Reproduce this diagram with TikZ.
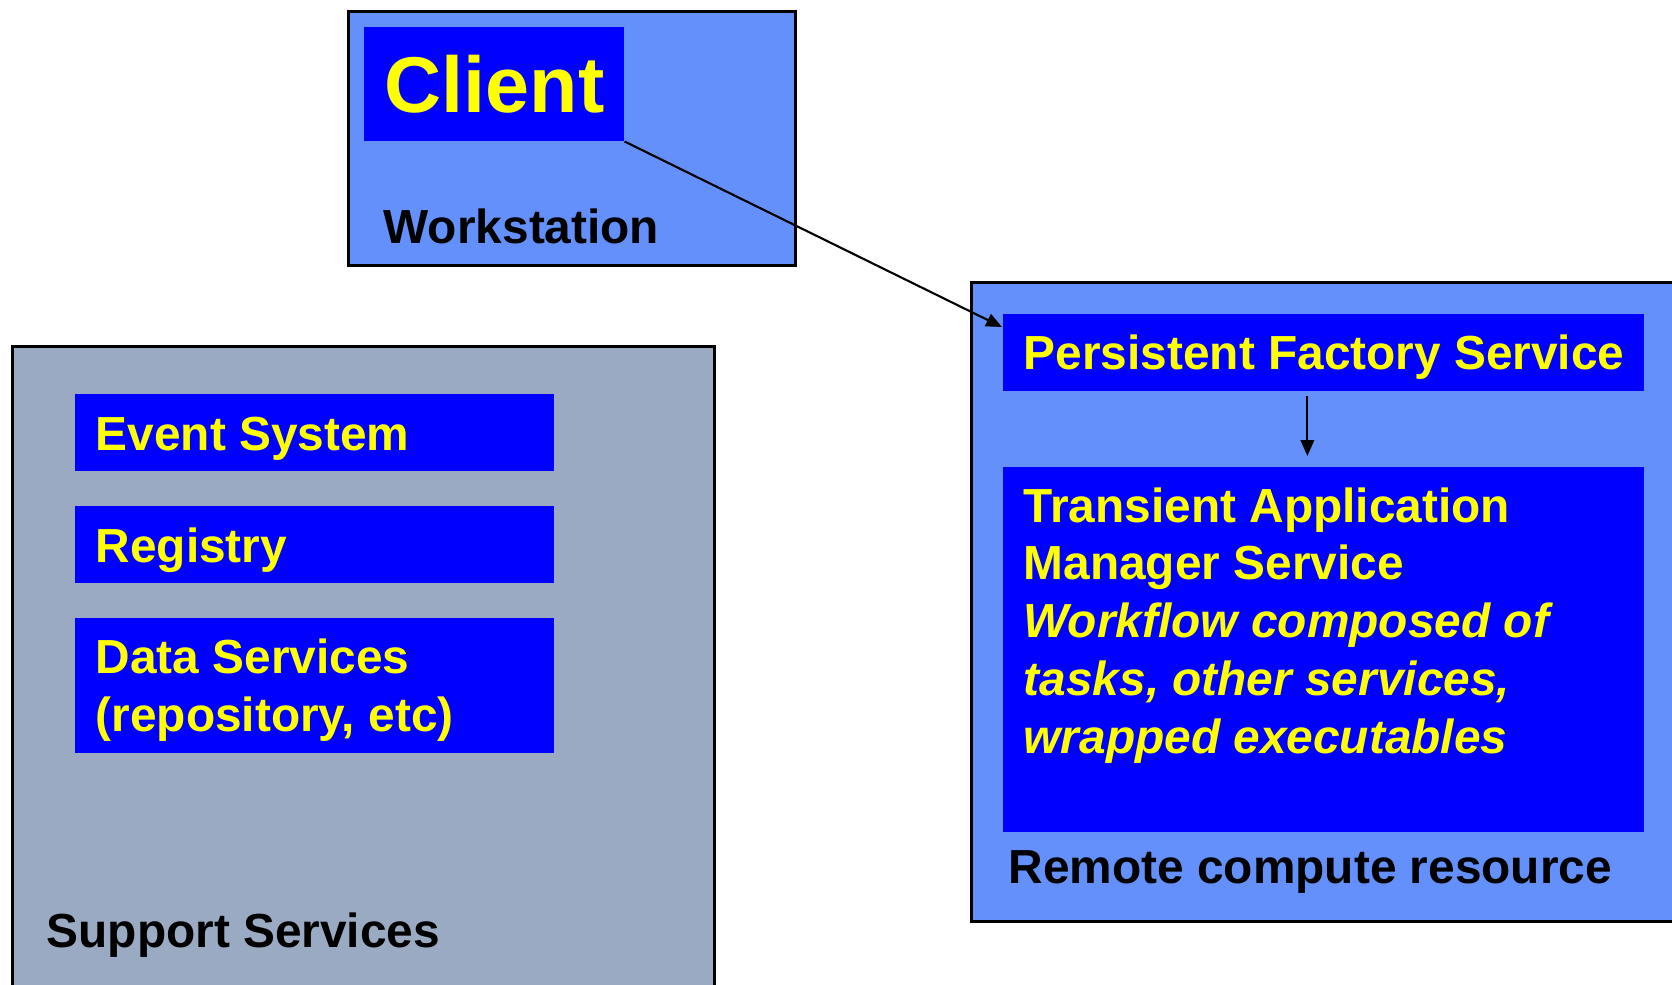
\documentclass[tikz,border=0pt]{standalone}
\usepackage{fontspec}
\setmainfont{Liberation Sans}
\usetikzlibrary{arrows.meta, calc}
\definecolor{wsblue}{HTML}{6390FA}
\definecolor{supgray}{HTML}{9BAAC3}
\definecolor{boxblue}{HTML}{0000FF}
\definecolor{ylw}{HTML}{FFFF00}
\tikzset{outer/.style={draw=black, line width=0.8pt, fill=wsblue, inner sep=0pt, anchor=north west}}
\tikzset{inbox/.style={fill=boxblue, inner sep=0pt, anchor=north west}}
\tikzset{txt/.style={font=\fontsize{13.6}{16.4}\selectfont\bfseries, inner sep=0pt, anchor=base west, align=left}}
\tikzset{ytxt/.style={txt, text=ylw}}
\tikzset{conn/.style={line width=0.6pt, -{Triangle[length=4.5pt, width=3.8pt]}}}

\begin{document}
\begin{tikzpicture}[x=0.01cm, y=-0.01cm]
		\clip (0,0) rectangle (1672,984);

		% Workstation
		\node[outer, minimum width=4.47cm, minimum height=2.54cm] (ws) at (347,10) {};
		\node[inbox, minimum width=2.60cm, minimum height=1.14cm] (client) at (363,26) {};
		\node[ytxt, font=\fontsize{22.5}{27}\selectfont\bfseries] (clienttxt) at (384,112) {Client};
		\node[txt] (wstxt) at (383,243) {Workstation};

		% Remote compute resource
		\node[outer, minimum width=7.20cm, minimum height=6.39cm] (rcr) at (970,281) {};
		\node[inbox, minimum width=6.41cm, minimum height=0.77cm] (pfs) at (1002,313) {};
		\node[ytxt] (pfstxt) at (1023,369) {Persistent Factory Service};
		\node[inbox, minimum width=6.41cm, minimum height=3.65cm] (tams) at (1002,466) {};
		% base anchor sits on the last line
		\node[ytxt] (tamstxt) at (1023,753) {Transient Application\\Manager Service\\
			{\itshape Workflow composed of}\\{\itshape tasks, other services,}\\{\itshape wrapped executables}};
		\node[txt] (rcrtxt) at (1008,883) {Remote compute resource};

		% Support services
		\node[outer, fill=supgray, minimum width=7.02cm, minimum height=6.60cm] (sup) at (11,345) {};
		\node[inbox, minimum width=4.79cm, minimum height=0.77cm] (ev) at (74,393) {};
		\node[ytxt] (evtxt) at (95,450) {Event System};
		\node[inbox, minimum width=4.79cm, minimum height=0.77cm] (reg) at (74,505) {};
		\node[ytxt] (regtxt) at (95,562) {Registry};
		\node[inbox, minimum width=4.79cm, minimum height=1.35cm] (data) at (74,617) {};
		\node[ytxt] (datatxt) at (95,731) {Data Services\\(repository, etc)};
		\node[txt] (suptxt) at (46,947) {Support Services};

		% Arrows
		\draw[conn] (client.south east) -- ($(pfs.north west)+(0,14)$);
		\draw[conn] ([xshift=-0.16cm, yshift=-0.05cm]pfs.south) -- ([xshift=-0.16cm, yshift=0.1cm]tams.north);
	\end{tikzpicture}
\end{document}
